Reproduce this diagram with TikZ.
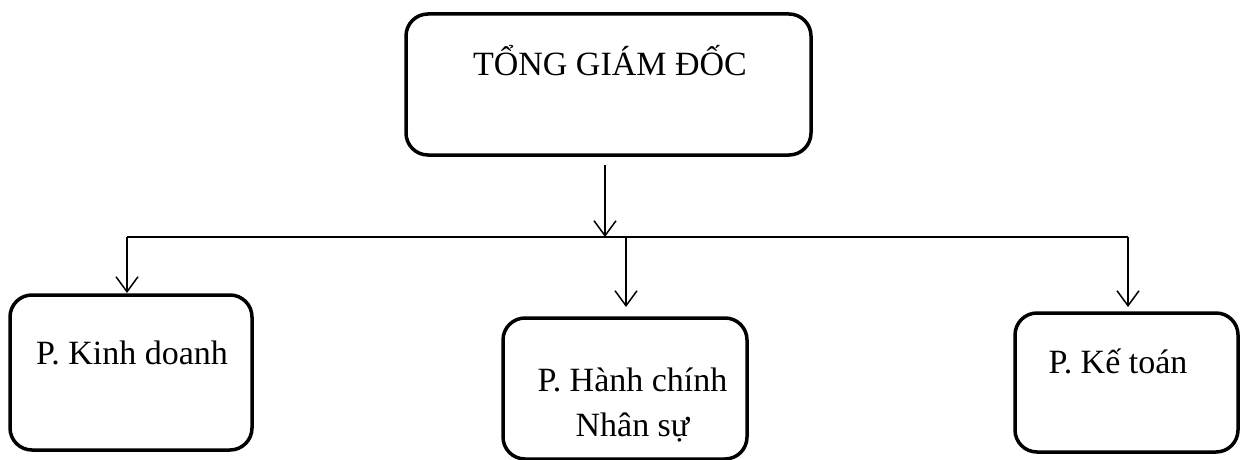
\documentclass[tikz,border=0pt]{standalone}
\usepackage{fontspec}
\setmainfont{Liberation Serif}
\usetikzlibrary{arrows.meta,calc}
\begin{document}
\begin{tikzpicture}[x=0.5pt,y=-0.5pt,
  box/.style={draw,line width=1.75pt,rounded corners=11pt,inner sep=0pt},
  lbl/.style={font=\fontsize{17}{22.5}\selectfont,inner sep=0pt,align=center},
  conn/.style={line width=0.75pt},
  arr/.style={conn,-{Straight Barb[length=7.5pt,width=11pt,line width=0.75pt]}}]
\useasboundingbox (0,0) rectangle (1241,460);
% boxes
\node[box,minimum width=202.5pt,minimum height=70.5pt] (gd) at (608.5,84.5) {};
\node[box,minimum width=121pt,minimum height=77.5pt] (kd) at (131,372.5) {};
\node[box,minimum width=122pt,minimum height=70.5pt] (hc) at (625,388.5) {};
\node[box,minimum width=111.5pt,minimum height=69.5pt] (kt) at (1126.5,382.5) {};
% labels
\node[lbl] (tgd) at (610,61) {TỔNG GIÁM ĐỐC};
\node[lbl] (tkd) at (132,353) {P. Kinh doanh};
\node[lbl] (thc) at (632.5,405) {P. Hành chính\\Nhân sự};
\node[lbl] (tkt) at (1118,361) {P. Kế toán};
% junctions
\coordinate (top) at (605,165);
\coordinate (j) at (605,237);
\coordinate (jl) at (127,237);
\coordinate (jm) at (626,237);
\coordinate (jr) at (1128,237);
\coordinate (el) at (127,293);
\coordinate (em) at (626,307);
\coordinate (er) at (1128,307);
\draw[arr] (top) -- (j);
\draw[conn] (jl) -- (jr);
\draw[arr] (jl) -- (el);
\draw[arr] (jm) -- (em);
\draw[arr] (jr) -- (er);
\end{tikzpicture}
\end{document}
